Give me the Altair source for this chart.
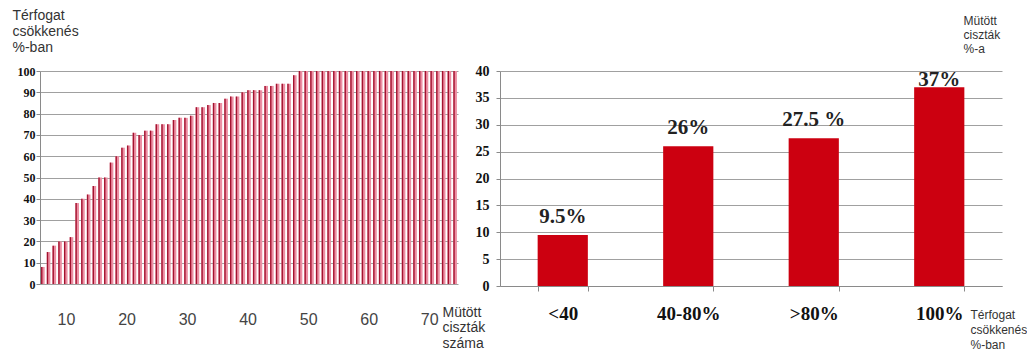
import altair as alt
import pandas as pd

# ---------------- data ----------------
# Left panel: volume reduction (%) per operated cyst, sorted
cyst_volume_reduction = [8, 15, 18, 20, 20, 22, 38, 40, 42, 46, 50, 50, 57, 60, 64, 65, 71, 70, 72, 72,
                         75, 75, 75, 77, 78, 78, 79, 83, 83, 84, 85, 85, 87, 88, 88, 90, 91, 91, 91, 93,
                         93, 94, 94, 94, 98] + [100] * 28
cyst_index = list(range(1, len(cyst_volume_reduction) + 1))
left_x_ticks = [10, 20, 30, 40, 50, 60, 70]
left_y_ticks = list(range(0, 101, 10))

# Right panel: share of operated cysts per volume-reduction group
categories = ["<40", "40-80%", ">80%", "100%"]
shares = [9.5, 26, 27.5, 37]
share_labels = ["9.5%", "26%", "27.5 %", "37%"]
right_y_ticks = list(range(0, 41, 5))

SERIF = "Liberation Serif"
SANS = "Liberation Sans"
GRID = "#a0a0a0"
AXIS = "#8a8a8a"

LW, LH = 418, 213
RW, RH = 502, 215

left_df = pd.DataFrame({"n": cyst_index, "v": cyst_volume_reduction})
tick_df = pd.DataFrame({"t": left_x_ticks})
right_df = pd.DataFrame({"cat": categories, "share": shares, "label": share_labels})

# ---------------- left panel ----------------
y_left = alt.Y(
    "v:Q",
    scale=alt.Scale(domain=[0, 100], nice=False),
    axis=alt.Axis(
        values=left_y_ticks, tickCount=11, grid=True, gridColor=GRID, gridOpacity=1,
        domainColor=AXIS, tickColor=AXIS, labelOverlap=False,
        tickSize=4, labelFont=SERIF, labelFontWeight="bold", labelFontSize=12, labelColor="#111",
        labelPadding=1,
        title=["Térfogat", "csökkenés", "%-ban"], titleAngle=0, titleAlign="left",
        titleBaseline="top", titleX=-28, titleY=-63, titleFont=SANS, titleFontSize=14,
        titleFontWeight="normal", titleColor="#333", titleLineHeight=16,
    ),
)
x_band = alt.X("n:O", axis=None, scale=alt.Scale(paddingInner=0, paddingOuter=0))

pink = alt.Chart(left_df).mark_bar(color="#ec8fa3", size=3.6).encode(x=x_band, y=y_left)
dark = alt.Chart(left_df).mark_bar(color="#a3122f", size=1.4, xOffset=-1.1).encode(
    x=x_band, y=y_left
)
ticks = alt.Chart(tick_df).mark_point(opacity=0).encode(
    x=alt.X(
        "t:Q",
        scale=alt.Scale(domain=[5.71, 74.75], nice=False, zero=False),
        axis=alt.Axis(
            orient="bottom", values=left_x_ticks, ticks=False, domain=False, grid=False,
            labelFont=SANS, labelFontSize=16, labelColor="#444", labelBaseline="middle",
            labelPadding=35, labelFlush=False, labelOverlap=False,
            title=["Mütött", "ciszták", "száma"], titleAngle=0, titleAlign="left",
            titleBaseline="top", titleX=402, titleY=21, titleFont=SANS, titleFontSize=14,
            titleFontWeight="normal", titleColor="#333", titleLineHeight=15.5,
        ),
    ),
    y=alt.value(0),
)
left = alt.layer(pink, dark, ticks).resolve_scale(x="independent").properties(width=LW, height=LH)

# ---------------- right panel ----------------
x_right = alt.X(
    "cat:N", sort=categories,
    scale=alt.Scale(paddingInner=0.6, paddingOuter=0.3),
    axis=alt.Axis(
        labelAngle=0, labelFont=SERIF, labelFontWeight="bold", labelFontSize=19, labelColor="#111",
        labelBaseline="middle", labelPadding=22, tickBand="extent", tickSize=5, tickColor=AXIS,
        domainColor=AXIS, labelOverlap=False,
        title=["Térfogat", "csökkenés", "%-ban"], titleAngle=0, titleAlign="left",
        titleBaseline="top", titleX=470, titleY=23, titleFont=SANS, titleFontSize=12,
        titleFontWeight="normal", titleColor="#333", titleLineHeight=15,
    ),
)
y_right = alt.Y(
    "share:Q",
    scale=alt.Scale(domain=[0, 40], nice=False),
    axis=alt.Axis(
        values=right_y_ticks, tickCount=9, grid=True, gridColor=GRID, gridOpacity=1,
        domainColor=AXIS, tickColor=AXIS, labelOverlap=False,
        tickSize=4, labelFont=SERIF, labelFontWeight="bold", labelFontSize=14, labelColor="#111",
        labelPadding=7,
        title=["Mütött", "ciszták", "%-a"], titleAngle=0, titleAlign="left",
        titleBaseline="top", titleX=463, titleY=-56, titleFont=SANS, titleFontSize=12,
        titleFontWeight="normal", titleColor="#333", titleLineHeight=14,
    ),
)
base_r = alt.Chart(right_df)
bars_r = base_r.mark_bar(color="#cc0010").encode(x=x_right, y=y_right)
lab_lo = base_r.transform_filter("datum.share < 35").mark_text(
    font=SERIF, fontWeight="bold", fontSize=21, color="#222", baseline="alphabetic", dy=-12
).encode(x=x_right, y=y_right, text="label:N")
lab_hi = base_r.transform_filter("datum.share >= 35").mark_text(
    font=SERIF, fontWeight="bold", fontSize=21, color="#222", baseline="alphabetic", dy=-1
).encode(x=x_right, y=y_right, text="label:N")
right = alt.layer(bars_r, lab_lo, lab_hi).properties(width=RW, height=RH)

chart = (
    alt.hconcat(left, right, spacing=42, bounds="flush")
    .properties(padding={"left": 12, "top": 8, "right": 0, "bottom": 0}, background="white")
    .configure_view(stroke=None)
)

chart.save("out.html", embed_options={"renderer": "svg", "actions": False})
